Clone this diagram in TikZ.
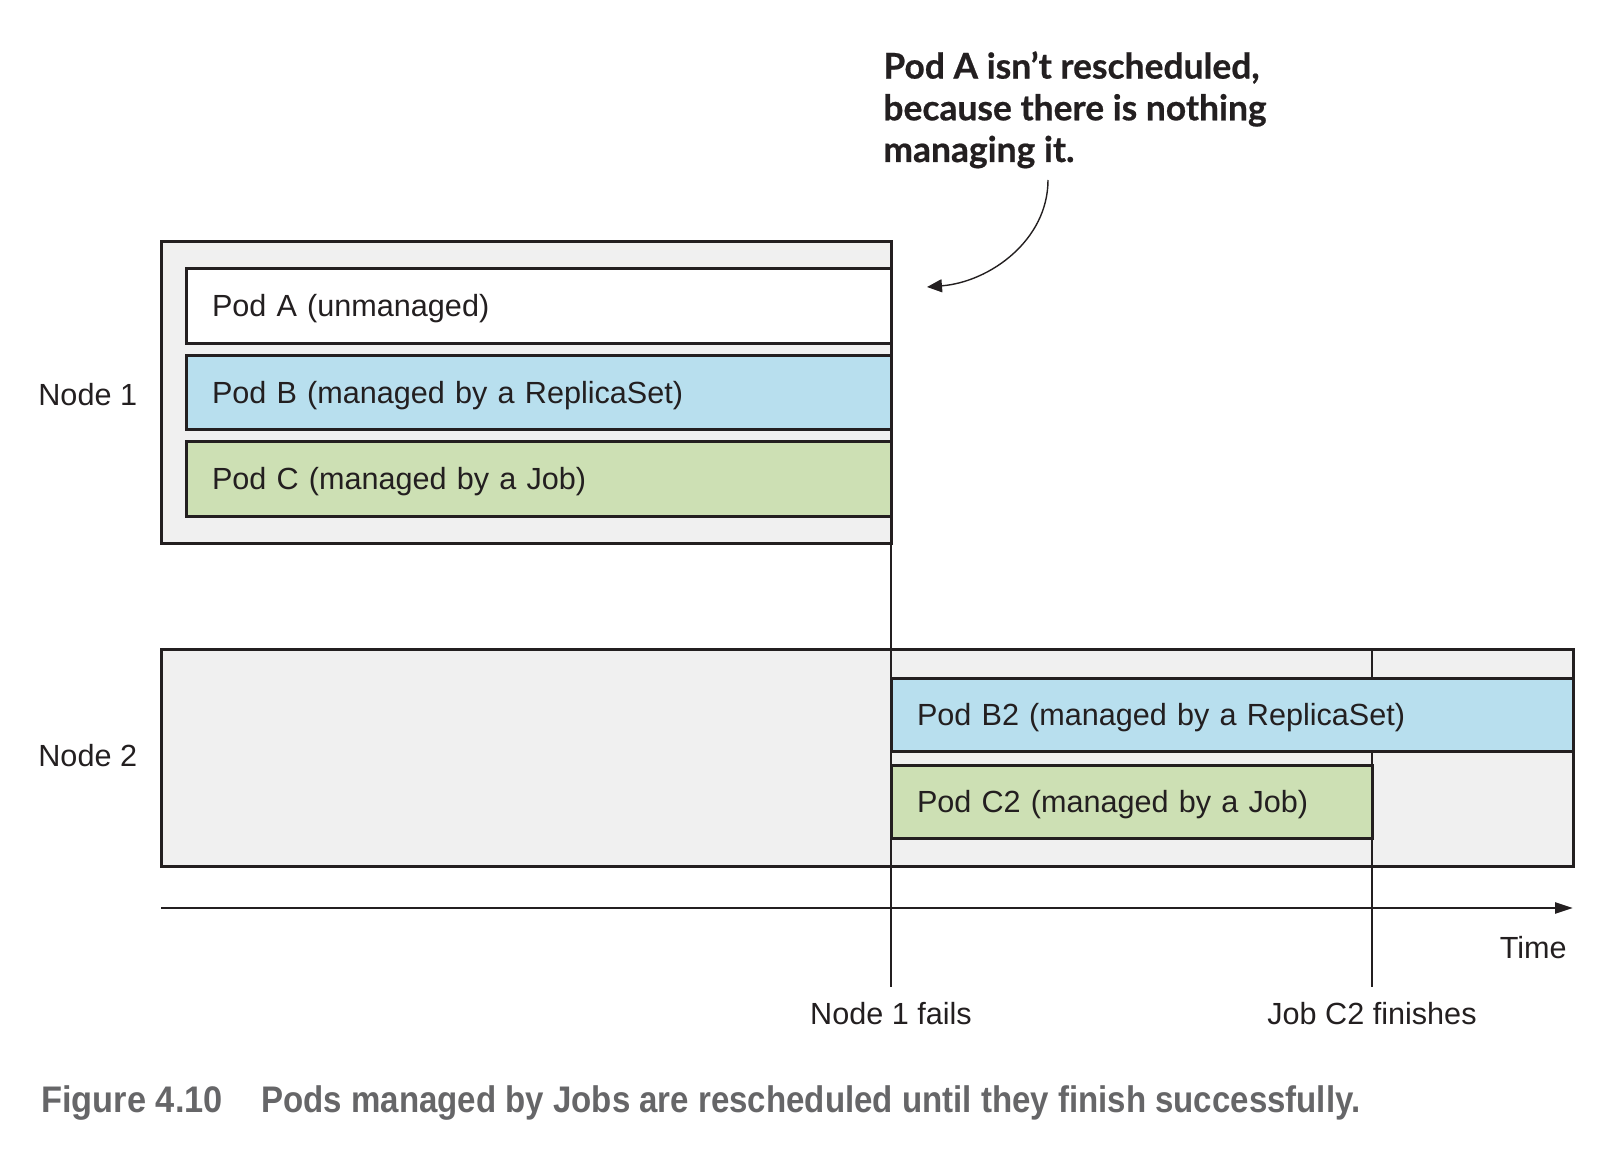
\documentclass[tikz,border=0pt]{standalone}
\usepackage{fontspec}
\usepackage{graphicx}
\setmainfont{Liberation Sans}
\newfontfamily\annfont{Lato}[BoldFeatures={FakeBold=0.6}]
\usetikzlibrary{arrows.meta}
\definecolor{ink}{HTML}{231F20}
\definecolor{nodegray}{HTML}{F0F0F0}
\definecolor{podblue}{HTML}{B8DFEE}
\definecolor{podgreen}{HTML}{CDE0B4}
\definecolor{capgray}{HTML}{666668}
\begin{document}
\begin{tikzpicture}[x=0.5pt,y=-0.5pt,
  every node/.style={text=ink},
  lbl/.style={font=\fontsize{15.3pt}{18pt}\selectfont, inner sep=0pt},
  hostbox/.style={draw=ink, line width=1.5pt, fill=nodegray, rectangle, anchor=north west, inner sep=0pt, outer sep=0pt},
  podbox/.style={draw=ink, line width=1.5pt, rectangle, anchor=north west, inner xsep=13pt, inner ysep=0pt, outer sep=0pt,
    align=left, font=\fontsize{15.3pt}{18pt}\selectfont, text height=11.1pt, text depth=0pt},
  vline/.style={draw=ink, line width=1.4pt},
  axisline/.style={draw=ink, line width=1.3pt, -{Triangle[length=9pt,width=5.5pt]}},
  callout/.style={draw=ink, line width=0.7pt, -{Triangle[length=7.5pt,width=6.5pt]}},
  capfont/.style={font=\bfseries\fontsize{18.5pt}{20pt}\selectfont, text=capgray, inner sep=0pt, anchor=base west}
]
\useasboundingbox (0,0) rectangle (1618,1172);

% Node 1
\node[hostbox, minimum width=365pt, minimum height=151pt] (n1box) at (161,241) {};
\node[podbox, fill=white, minimum height=37.5pt, text width=326.5pt] (podA) at (186,268) {Pod A (unmanaged)};
\node[podbox, fill=podblue, minimum height=37pt, text width=326.5pt] (podB) at (186,355) {Pod B (managed by a ReplicaSet)};
\node[podbox, fill=podgreen, minimum height=37.5pt, text width=326.5pt] (podC) at (186,441) {Pod C (managed by a Job)};

% Node 2
\node[hostbox, minimum width=706pt, minimum height=108.5pt] (n2box) at (161,649) {};

% time markers
\coordinate (failend) at (891,987);
\coordinate (jobend) at (1372,987);
\coordinate (jobtop) at (1372,649);
\draw[vline] (n1box.north east) -- (failend);
\draw[vline] (jobtop) -- (jobend);

\node[podbox, fill=podblue, minimum height=36.5pt, text width=315pt] (podB2) at (891,678) {Pod B2 (managed by a ReplicaSet)};
\node[podbox, fill=podgreen, minimum height=36.5pt, text width=214.5pt] (podC2) at (891,765) {Pod C2 (managed by a Job)};

% time axis
\coordinate (t0) at (161,908);
\coordinate (t1) at (1573,908);
\draw[axisline] (t0) -- (t1);

% labels
\node[lbl, anchor=base west] (n1lbl) at (38,405) {Node 1};
\node[lbl, anchor=base west] (n2lbl) at (38,766) {Node 2};
\node[lbl, anchor=base east] (timelbl) at (1567,958) {Time};
\node[lbl, anchor=base] (faillbl) at (891,1024) {Node 1 fails};
\node[lbl, anchor=base] (joblbl) at (1372,1024) {Job C2 finishes};

% callout
\node[anchor=base west, inner sep=0pt, align=left, font=\annfont\bfseries\fontsize{17.7pt}{20.85pt}\selectfont] (ann) at (883,162)
  {Pod A isn’t rescheduled,\\because there is nothing\\managing it.};
\coordinate (arrs) at (1048,180);
\coordinate (arrt) at (927,287);
\draw[callout] (arrs) .. controls (1048,240) and (990,282) .. (arrt);

% caption
\node[capfont] (figno) at (41,1112) {\resizebox{90.75pt}{\height}{Figure 4.10}};
\node[capfont] (captxt) at (261,1112) {\resizebox{549.5pt}{\height}{Pods managed by Jobs are rescheduled until they finish successfully.}};
\end{tikzpicture}
\end{document}
